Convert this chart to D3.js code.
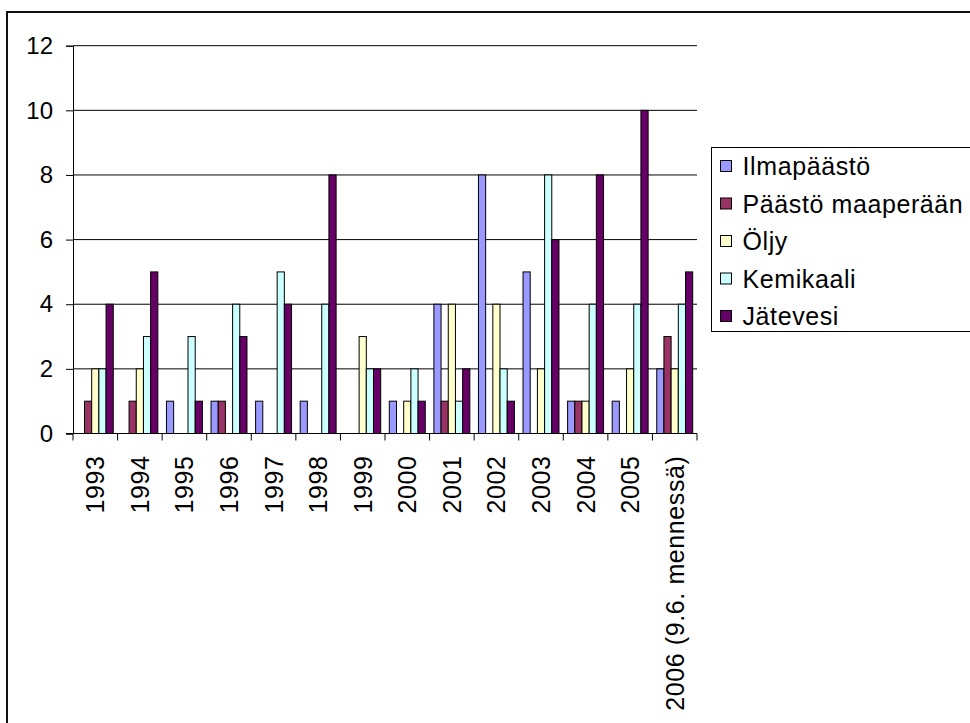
<!DOCTYPE html>
<html>
<head>
<meta charset="utf-8">
<script src="https://cdn.jsdelivr.net/npm/d3@7"></script>
<style>
  body { margin: 0; background: #fff; }
  text { font-family: "Liberation Sans", Arial, sans-serif; fill: #000; }
</style>
</head>
<body>
<div id="chart"></div>
<script>
// data
let years = ["1993", "1994", "1995", "1996", "1997", "1998", "1999", "2000",
             "2001", "2002", "2003", "2004", "2005", "2006 (9.6. mennessä)"];
let seriesNames = ["Ilmapäästö", "Päästö maaperään", "Öljy", "Kemikaali", "Jätevesi"];
let ilmapaasto = [0, 0, 1, 1, 1, 1, 0, 1, 4, 8, 5, 1, 1, 2];
let paastoMaaperaan = [1, 1, 0, 1, 0, 0, 0, 0, 1, 0, 0, 1, 0, 3];
let oljy = [2, 2, 0, 0, 0, 0, 3, 1, 4, 4, 2, 1, 2, 2];
let kemikaali = [2, 3, 3, 4, 5, 4, 2, 2, 1, 2, 8, 4, 4, 4];
let jatevesi = [4, 5, 1, 3, 4, 8, 2, 1, 2, 1, 6, 8, 10, 5];
let yTicks = [0, 2, 4, 6, 8, 10, 12];

let colours = ["#9999ff", "#993366", "#ffffcc", "#ccffff", "#660066"];
let allSeries = [ilmapaasto, paastoMaaperaan, oljy, kemikaali, jatevesi];

const width = 970;
const height = 723;

var svg = d3.select("#chart")
    .append("svg")
    .attr("width", width)
    .attr("height", height);

// outer frame, right and bottom edges fall off the picture
svg.append("rect")
    .attr("x", 7)
    .attr("y", 12)
    .attr("width", 1000)
    .attr("height", 800)
    .attr("fill", "none")
    .attr("stroke", "#111")
    .attr("stroke-width", 2);

var x = d3.scaleBand()
    .domain(years)
    .range([73, 697]);

var xInner = d3.scaleBand()
    .domain(seriesNames)
    .range([0, x.bandwidth()])
    .paddingOuter(0.6);

var y = d3.scaleLinear()
    .domain([0, 12])
    .range([433.5, 45.7]);

// gridlines
svg.append("g")
    .selectAll("line")
    .data(yTicks.filter(d => d > 0))
    .enter().append("line")
    .attr("x1", 73)
    .attr("x2", 697)
    .attr("y1", d => y(d))
    .attr("y2", d => y(d))
    .attr("stroke", "#000")
    .attr("stroke-width", 1);

// bars, one group per series
allSeries.forEach(function(values, i) {
    svg.append("g")
        .selectAll("rect")
        .data(values.map((v, j) => ({ year: years[j], value: v })).filter(d => d.value > 0))
        .enter().append("rect")
        .attr("x", d => x(d.year) + xInner(seriesNames[i]))
        .attr("y", d => y(d.value))
        .attr("width", xInner.bandwidth())
        .attr("height", d => y(0) - y(d.value))
        .attr("fill", colours[i])
        .attr("stroke", "#000")
        .attr("stroke-width", 1);
});

// y axis
var yAxis = svg.append("g")
    .attr("transform", "translate(73,0)")
    .call(d3.axisLeft(y).tickValues(yTicks).tickSize(7).tickPadding(13));
yAxis.selectAll("text").attr("font-size", 24).attr("font-family", null);
yAxis.select(".domain").attr("stroke", "#000");

// x axis: ticks sit on the category boundaries
var xAxis = svg.append("g")
    .attr("transform", "translate(0," + y(0) + ")");
xAxis.append("line")
    .attr("x1", 66)
    .attr("x2", 697)
    .attr("stroke", "#000");
xAxis.selectAll(".tick")
    .data(years.concat(["end"]))
    .enter().append("line")
    .attr("x1", (d, i) => i < years.length ? x(d) : x.range()[1])
    .attr("x2", (d, i) => i < years.length ? x(d) : x.range()[1])
    .attr("y1", 0)
    .attr("y2", 7)
    .attr("stroke", "#000");
xAxis.selectAll(".label")
    .data(years)
    .enter().append("text")
    .attr("class", "label")
    .attr("transform", d => "translate(" + (x(d) + x.bandwidth() / 2) + ",22) rotate(-90)")
    .attr("text-anchor", "end")
    .attr("dy", "0.36em")
    .attr("font-size", 25)
    .attr("letter-spacing", 0.6)
    .text(d => d);

// legend
var legend = svg.append("g");
legend.append("rect")
    .attr("x", 711.5)
    .attr("y", 147.5)
    .attr("width", 300)
    .attr("height", 184)
    .attr("fill", "#fff")
    .attr("stroke", "#000");

var items = legend.selectAll(".item")
    .data(seriesNames)
    .enter().append("g")
    .attr("transform", (d, i) => "translate(720.5," + (166 + i * 37.5) + ")");
items.append("rect")
    .attr("x", 0)
    .attr("y", -5.5)
    .attr("width", 11)
    .attr("height", 11)
    .attr("fill", (d, i) => colours[i])
    .attr("stroke", "#000");
items.append("text")
    .attr("x", 22)
    .attr("dy", "0.36em")
    .attr("font-size", 25)
    .attr("letter-spacing", 0.6)
    .text(d => d);
</script>
</body>
</html>
